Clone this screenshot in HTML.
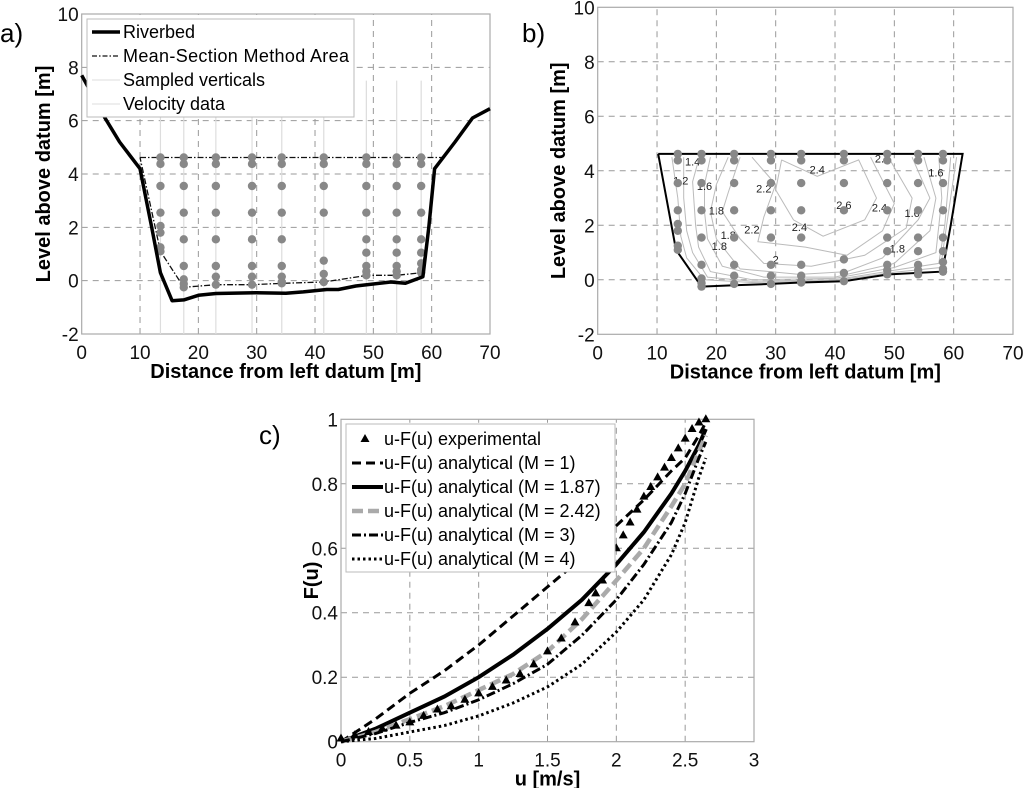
<!DOCTYPE html>
<html><head><meta charset="utf-8">
<style>
html,body{margin:0;padding:0;background:#fff;}
svg{display:block;font-family:"Liberation Sans",sans-serif;}
</style></head>
<body>
<svg id="fig" width="1024" height="788" viewBox="0 0 1024 788" xmlns="http://www.w3.org/2000/svg"></svg>
<script>
// ---------- DATA ----------
const riverbedX = [0,2,4,6.5,10,12,13.5,15.5,17.5,20,23,30,35,38,42,44,47,53,55.5,58.5,59.5,60.5,64,67,70];
const riverbedY = [7.7,6.9,6.1,5.2,4.2,2.0,0.3,-0.75,-0.72,-0.55,-0.48,-0.45,-0.47,-0.42,-0.33,-0.33,-0.2,-0.05,-0.1,0.15,2.0,4.2,5.2,6.1,6.45];
const areaX = [10,61.8,60.5,59.5,58.5,58.2,54,49,41.5,34.5,29,23,17.5,13.5,10];
const areaY = [4.62,4.62,4.2,2.0,0.6,0.3,0.2,0.2,-0.05,-0.1,-0.15,-0.15,-0.25,1.1,4.62];
const verticalX = [13.5,17.5,23,29.2,34.3,41.5,48.8,54,58.2];
const verticalDepths = [
 [4.62,4.38,3.55,2.55,2.05,1.8,1.25,1.1],
 [4.62,4.38,3.55,2.55,1.55,0.55,0.05,-0.12,-0.25],
 [4.62,4.38,3.55,2.55,1.55,0.55,0.15,-0.15],
 [4.62,4.38,3.55,2.55,1.55,0.55,0.15,-0.15],
 [4.62,4.38,3.55,2.55,1.55,0.55,0.15,-0.05,-0.1],
 [4.62,4.38,3.55,2.55,0.75,0.25,-0.05],
 [4.62,4.38,3.55,2.55,1.55,1.05,0.55,0.35,0.2],
 [4.62,4.38,3.55,2.55,1.55,1.05,0.55,0.35,0.2],
 [4.62,4.38,3.55,2.55,1.55,1.05,0.65,0.4,0.3]
];
const boundaryX = [10.2,61.5,59.5,58.5,58.2,49,41.5,34.3,29.2,23,17.5,13.2,10.2];
const boundaryY = [4.62,4.62,2.0,0.8,0.3,0.2,-0.05,-0.1,-0.15,-0.2,-0.25,1.1,4.62];
const contourLevels = [2.4,2.2,2.0,1.8,1.6,1.4,1.2,1.0];
const contourX = [
 [31,37,44,47,45,38,33,30,31],
 [26,30,28,27,35,42,48,50,46],
 [24,22,21,24,28,36,45,52,53,49],
 [22,20,19,20,24,34,42,48,54,56,53],
 [19,18,18,18.5,21,28,40,50,56,57,55],
 [17,16,16.5,17,19,26,40,50,57,58,57.5],
 [14.5,14.5,15,16,18.5,26,40,50,57.5,58.5,59.5],
 [12.5,13.5,14,15,18,26,40,50,57.8,58.8,60.5]
];
const contourY = [
 [4.4,3.8,4.4,3.0,2.2,1.6,2.2,3.3,4.4],
 [4.5,3.5,2.3,1.4,1.2,0.9,1.8,2.8,4.5],
 [4.5,3.2,2.5,1.5,0.6,0.5,0.9,1.9,3.0,4.5],
 [4.5,3.5,2.5,1.5,0.4,0.2,0.3,0.8,2.2,3.0,4.5],
 [4.5,3.5,2.5,1.5,0.5,0.1,0.1,0.6,1.8,3.0,4.5],
 [4.4,3.6,2.0,1.2,0.3,0.0,0.05,0.45,1.0,3.0,4.5],
 [4.5,3.0,1.8,1.0,0.1,-0.05,0.0,0.35,0.6,2.0,4.5],
 [4.5,3.0,1.6,0.8,0.0,-0.1,-0.03,0.28,0.45,2.0,4.5]
];
const contourLabelX = [37,34,47.5,41.5,26,28,30,20,18,57,16,14,53,20.5,50.5,48,22];
const contourLabelY = [3.9,1.8,2.5,2.6,1.7,3.2,0.6,2.4,3.3,3.8,4.2,3.5,2.3,1.1,1.0,4.3,1.5];
const contourLabelText = ["2.4","2.4","2.4","2.6","2.2","2.2","2","1.8","1.6","1.6","1.4","1.2","1.6","1.8","1.8","2.2","1.8"];

const expU = [0,0.1,0.2,0.3,0.4,0.5,0.6,0.7,0.8,0.9,1.0,1.1,1.2,1.3,1.4,1.5,1.6,1.7,1.8,1.85,1.9,1.95,2.0,2.05,2.1,2.15,2.2,2.25,2.3,2.35,2.4,2.45,2.5,2.55,2.6,2.65];
const expF = [0.01,0.02,0.03,0.04,0.05,0.06,0.08,0.1,0.11,0.13,0.15,0.17,0.19,0.21,0.24,0.28,0.32,0.37,0.43,0.46,0.5,0.54,0.6,0.64,0.68,0.72,0.76,0.79,0.82,0.85,0.88,0.91,0.94,0.97,0.99,1.0];
const curveU = [0,0.25,0.5,0.75,1,1.25,1.5,1.75,2,2.2,2.4,2.5,2.6,2.65];
const fM1   = [0,0.07,0.15,0.22,0.30,0.39,0.48,0.57,0.67,0.75,0.84,0.88,0.95,0.99];
const fM187 = [0,0.04,0.09,0.14,0.20,0.27,0.35,0.44,0.55,0.65,0.77,0.84,0.92,0.97];
const fM242 = [0,0.03,0.07,0.11,0.16,0.21,0.28,0.38,0.50,0.60,0.73,0.80,0.90,0.95];
const fM3   = [0,0.025,0.06,0.09,0.13,0.18,0.24,0.33,0.44,0.55,0.68,0.77,0.88,0.93];
const fM4   = [0,0.01,0.03,0.05,0.08,0.12,0.17,0.24,0.34,0.44,0.58,0.68,0.82,0.88];

// ---------- HELPERS ----------
const NS = "http://www.w3.org/2000/svg";
const svg = document.getElementById('fig');
function mk(tag, attrs, parent, txt){
  const e = document.createElementNS(NS, tag);
  for (const k in attrs) e.setAttribute(k, attrs[k]);
  if (txt !== undefined) e.textContent = txt;
  (parent||svg).appendChild(e);
  return e;
}
function scale(d0,d1,p0,p1){ return v => p0 + (v-d0)*(p1-p0)/(d1-d0); }
function pathOf(xs,ys,sx,sy){ return xs.map((x,i)=>(i?'L':'M')+sx(x).toFixed(1)+','+sy(ys[i]).toFixed(1)).join(''); }

function axes(name, x0,x1,y0,y1, sx, sy, xt, yt, xlab, ylab, xticksLbl, yticksLbl, ylx){
  const g = mk('g',{});
  
  
  xt.forEach((v,i)=>{
    if(i>0 && i<xt.length-1){
      const l = mk('line',{x1:sx(v),x2:sx(v),y1:y0,y2:y1,stroke:'#999','stroke-dasharray':'6,5','stroke-width':1},g);
      
      
    }
    const t = mk('text',{x:sx(v),y:y0+25,'text-anchor':'middle','font-size':19,fill:'#111'},g,xticksLbl[i]);
    
    
  });
  yt.forEach((v,i)=>{
    if(i>0 && i<yt.length-1){
      const l = mk('line',{x1:x0,x2:x1,y1:sy(v),y2:sy(v),stroke:'#999','stroke-dasharray':'6,5','stroke-width':1},g);
      
      
    }
    const t = mk('text',{x:x0-3,y:sy(v)+7,'text-anchor':'end','font-size':19,fill:'#111'},g,yticksLbl[i]);
    
    
  });
  const b = mk('rect',{x:x0,y:y1,width:x1-x0,height:y0-y1,fill:'none',stroke:'#aaa','stroke-width':1.2},g);
  
  
  const xl = mk('text',{x:(x0+x1)/2,y:y0+44,'text-anchor':'middle','font-size':20,'font-weight':'bold'},g,xlab);
  
  
  const yy=(y0+y1)/2;
  const yl = mk('text',{x:ylx,y:yy,'text-anchor':'middle','font-size':20,'font-weight':'bold',transform:`rotate(-90 ${ylx} ${yy})`},g,ylab);
  
  
}

const distTicks=[0,10,20,30,40,50,60,70], levTicks=[-2,0,2,4,6,8,10];
const distLbl=distTicks.map(String), levLbl=levTicks.map(String);

// ---------- PANEL A ----------
{
  const sx=scale(0,70,81.7,490), sy=scale(-2,10,334,14);
  axes('panel-a-axes',81.7,490,334,14,sx,sy,distTicks,levTicks,'Distance from left datum [m]','Level above datum [m]',distLbl,levLbl,50);
  verticalX.forEach(v=>{
    const l=mk('line',{x1:sx(v),x2:sx(v),y1:sy(-2),y2:sy(7.5),stroke:'#ddd','stroke-width':1.2});
    
    
  });
  const ar=mk('path',{d:pathOf(areaX,areaY,sx,sy),fill:'none',stroke:'#111','stroke-width':1.3,'stroke-dasharray':'6,2,1.5,2'});
  
  
  verticalX.forEach((v,i)=>verticalDepths[i].forEach(d=>{
    const c=mk('circle',{cx:sx(v),cy:sy(d),r:4.2,fill:'#888'});
    
    
  }));
  const rb=mk('path',{d:pathOf(riverbedX,riverbedY,sx,sy),fill:'none',stroke:'#000','stroke-width':3.5,'stroke-linejoin':'round'});
  
  
  const lg=mk('g',{});
  
  
  mk('rect',{x:87,y:19,width:267,height:98,fill:'#fff',stroke:'#bbb'},lg);
  const items=[['Riverbed','#000',3.5,''],['Mean-Section Method Area','#111',1.2,'5,2,1.5,2'],['Sampled verticals','#ddd',1,''],['Velocity data','#ddd',1,'']];
  items.forEach((it,i)=>{
    const y=32+i*24;
    mk('line',{x1:92,x2:120,y1:y,y2:y,stroke:it[1],'stroke-width':it[2],'stroke-dasharray':it[3]},lg);
    const t=mk('text',{x:123,y:y+6,'font-size':18,textLength:i==1?226:null},lg,it[0]);
    if(i!==1) t.removeAttribute('textLength');
    
    
  });
  const p=mk('text',{x:0,y:42,'font-size':26},svg,'a)');
  
  
}

// ---------- PANEL B ----------
{
  const sx=scale(0,70,597.7,1013), sy=scale(-2,10,334.3,7.3);
  axes('panel-b-axes',597.7,1013,334.3,7.3,sx,sy,distTicks,levTicks,'Distance from left datum [m]','Level above datum [m]',distLbl,levLbl,565);
  contourLevels.forEach((lv,i)=>{
    const c=mk('path',{d:pathOf(contourX[i],contourY[i],sx,sy),fill:'none',stroke:'#bbb','stroke-width':1});
    
    
  });
  contourLabelText.forEach((t,i)=>{
    const e=mk('text',{x:sx(contourLabelX[i]),y:sy(contourLabelY[i]),'font-size':11,'text-anchor':'middle',fill:'#222'},svg,t);
    
    
  });
  const bd=mk('path',{d:pathOf(boundaryX,boundaryY,sx,sy),fill:'none',stroke:'#000','stroke-width':2});
  
  
  verticalX.forEach((v,i)=>verticalDepths[i].forEach(d=>{
    const c=mk('circle',{cx:sx(v),cy:sy(d),r:4.2,fill:'#888'});
    
    
  }));
  const p=mk('text',{x:522,y:42,'font-size':26},svg,'b)');
  
  
}

// ---------- PANEL C ----------
{
  const sx=scale(0,3,341,754), sy=scale(0,1,741.7,419.3);
  const ut=[0,0.5,1,1.5,2,2.5,3], ft=[0,0.2,0.4,0.6,0.8,1];
  axes('panel-c-axes',341,754,741.7,419.3,sx,sy,ut,ft,'u [m/s]','F(u)',['0','0.5','1','1.5','2','2.5','3'],['0','0.2','0.4','0.6','0.8','1'],318);
  const series=[
    ['curve-m1',fM1,'#000',3,'9,5'],
    ['curve-m187',fM187,'#000',4,''],
    ['curve-m242',fM242,'#aaa',4.5,'11,5'],
    ['curve-m3',fM3,'#000',3,'9,3,2,3'],
    ['curve-m4',fM4,'#000',3,'2.5,3']
  ];
  series.forEach(s=>{
    const e=mk('path',{d:pathOf(curveU,s[1],sx,sy),fill:'none',stroke:s[2],'stroke-width':s[3],'stroke-dasharray':s[4]});
    
    
  });
  expU.forEach((u,i)=>{
    const x=sx(u), y=sy(expF[i]);
    const t=mk('path',{d:`M${x},${y-5}L${x+4.5},${y+3}L${x-4.5},${y+3}Z`,fill:'#000'});
    
    
  });
  const lg=mk('g',{});
  
  
  mk('rect',{x:346,y:424,width:269,height:148,fill:'#fff',stroke:'#bbb'},lg);
  const items=[['u-F(u) experimental'],['u-F(u) analytical (M = 1)','#000',3,'9,5'],['u-F(u) analytical (M = 1.87)','#000',4,''],['u-F(u) analytical (M = 2.42)','#aaa',4.5,'11,5'],['u-F(u) analytical (M = 3)','#000',3,'9,3,2,3'],['u-F(u) analytical (M = 4)','#000',3,'2.5,3']];
  items.forEach((it,i)=>{
    const y=439+i*24;
    if(i===0) mk('path',{d:`M365,${y-5}L369.5,${y+3}L360.5,${y+3}Z`,fill:'#000'},lg);
    else mk('line',{x1:352,x2:383,y1:y,y2:y,stroke:it[1],'stroke-width':it[2],'stroke-dasharray':it[3]},lg);
    const t=mk('text',{x:384,y:y+6,'font-size':18},lg,it[0]);
    
    
  });
  const p=mk('text',{x:259,y:444,'font-size':26},svg,'c)');
  
  
}
</script>
</body></html>
